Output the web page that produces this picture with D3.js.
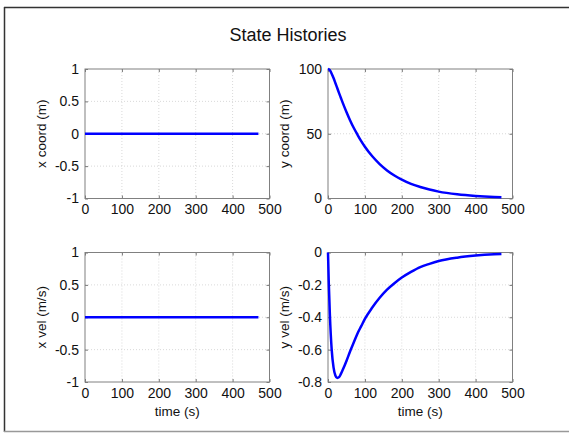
<!DOCTYPE html>
<html>
<head>
<meta charset="utf-8">
<script src="https://cdn.jsdelivr.net/npm/d3@7"></script>
<style>
  html, body { margin: 0; padding: 0; background: #fff; }
  svg { display: block; font-family: "Liberation Sans", Arial, sans-serif; }
</style>
</head>
<body>
<svg id="fig" width="569" height="433"></svg>
<script>
// Time samples (s)
const time = [0, 2, 5, 10, 15, 20, 25, 30, 35, 40, 50, 60, 70, 80, 90, 100, 120, 140,
              160, 180, 200, 225, 250, 275, 300, 350, 400, 450, 470];

// State histories
const xCoord = time.map(() => 0);
const yCoord = [100, 99.8, 99.0, 96.4, 93.0, 89.2, 85.3, 81.4, 77.6, 73.8, 66.8, 60.3,
                54.4, 49.2, 44.3, 40.0, 32.6, 26.6, 21.7, 17.8, 14.6, 11.3, 8.9, 6.9,
                5.3, 3.2, 1.9, 1.1, 0.9];
const xVel = time.map(() => 0);
const yVel = [0, -0.18, -0.38, -0.60, -0.71, -0.76, -0.775, -0.77, -0.75, -0.725, -0.67,
              -0.61, -0.555, -0.50, -0.455, -0.41, -0.34, -0.28, -0.23, -0.19, -0.155,
              -0.12, -0.09, -0.07, -0.053, -0.032, -0.019, -0.011, -0.009];

// Tick labels
const timeTicks = [0, 100, 200, 300, 400, 500];
const unitTicks = [-1, -0.5, 0, 0.5, 1];
const posTicks = [0, 50, 100];
const velTicks = [-0.8, -0.6, -0.4, -0.2, 0];

const title = "State Histories";

const panels = [
  { values: xCoord, yDomain: [-1, 1], yTicks: unitTicks, yLabel: "x coord (m)", xLabel: null,
    left: 85, top: 69 },
  { values: yCoord, yDomain: [0, 100], yTicks: posTicks, yLabel: "y coord (m)", xLabel: null,
    left: 328, top: 69 },
  { values: xVel, yDomain: [-1, 1], yTicks: unitTicks, yLabel: "x vel (m/s)", xLabel: "time (s)",
    left: 85, top: 252.5 },
  { values: yVel, yDomain: [-0.8, 0], yTicks: velTicks, yLabel: "y vel (m/s)", xLabel: "time (s)",
    left: 328, top: 252.5 }
];
const PW = 184.5, PH = 129.5;

const svg = d3.select("#fig");

// Figure frame
svg.append("line").attr("x1", 4).attr("x2", 569).attr("y1", 7.5).attr("y2", 7.5)
  .attr("stroke", "#333").attr("stroke-width", 1.5);
svg.append("line").attr("x1", 4.5).attr("x2", 4.5).attr("y1", 7).attr("y2", 432)
  .attr("stroke", "#333").attr("stroke-width", 1.5);
svg.append("line").attr("x1", 4).attr("x2", 569).attr("y1", 431.5).attr("y2", 431.5)
  .attr("stroke", "#999").attr("stroke-width", 1.5);

svg.append("text").attr("x", 288).attr("y", 41).attr("text-anchor", "middle")
  .attr("font-size", 18).attr("fill", "#111").text(title);

panels.forEach(p => {
  const g = svg.append("g").attr("transform", `translate(${p.left},${p.top})`);
  const x = d3.scaleLinear().domain([0, 500]).range([0, PW]);
  const y = d3.scaleLinear().domain(p.yDomain).range([PH, 0]);

  // dotted grid
  g.append("g").selectAll("line").data(timeTicks.slice(1, -1)).join("line")
    .attr("x1", d => x(d)).attr("x2", d => x(d)).attr("y1", 0).attr("y2", PH)
    .attr("stroke", "#cfcfcf").attr("stroke-width", 0.8).attr("stroke-dasharray", "1,2");
  g.append("g").selectAll("line").data(p.yTicks.slice(1, -1)).join("line")
    .attr("x1", 0).attr("x2", PW).attr("y1", d => y(d)).attr("y2", d => y(d))
    .attr("stroke", "#cfcfcf").attr("stroke-width", 0.8).attr("stroke-dasharray", "1,2");

  // inward ticks on all four sides
  const tk = 3;
  const axStyle = sel => {
    sel.select(".domain").remove();
    sel.selectAll(".tick line").attr("stroke", "#777");
    sel.selectAll(".tick text").attr("fill", "#111").attr("font-size", 14)
      .attr("font-family", "Liberation Sans, Arial, sans-serif");
  };
  g.append("g").attr("transform", `translate(0,${PH})`)
    .call(d3.axisBottom(x).tickValues(timeTicks).tickFormat(d3.format("d"))
      .tickSizeInner(-tk).tickSizeOuter(0).tickPadding(6))
    .call(axStyle);
  g.append("g")
    .call(d3.axisTop(x).tickValues(timeTicks).tickFormat("").tickSizeInner(-tk).tickSizeOuter(0))
    .call(axStyle);
  g.append("g")
    .call(d3.axisLeft(y).tickValues(p.yTicks).tickFormat(d => String(d))
      .tickSizeInner(-tk).tickSizeOuter(0).tickPadding(6))
    .call(axStyle);
  g.append("g").attr("transform", `translate(${PW},0)`)
    .call(d3.axisRight(y).tickValues(p.yTicks).tickFormat("").tickSizeInner(-tk).tickSizeOuter(0))
    .call(axStyle);

  // box
  g.append("rect").attr("x", 0).attr("y", 0).attr("width", PW).attr("height", PH)
    .attr("fill", "none").attr("stroke", "#808080").attr("stroke-width", 1);

  // series
  const line = d3.line().x((d, i) => x(time[i])).y(d => y(d)).curve(d3.curveMonotoneX);
  g.append("path").datum(p.values).attr("d", line)
    .attr("fill", "none").attr("stroke", "#0000ff").attr("stroke-width", 2.5)
    .attr("stroke-linejoin", "round");

  // labels
  g.append("text").attr("transform", `translate(-39,${PH / 2}) rotate(-90)`)
    .attr("text-anchor", "middle").attr("font-size", 13.5).attr("fill", "#111").text(p.yLabel);
  if (p.xLabel) {
    g.append("text").attr("x", PW / 2).attr("y", PH + 34).attr("text-anchor", "middle")
      .attr("font-size", 13.5).attr("fill", "#111").text(p.xLabel);
  }
});
</script>
</body>
</html>
